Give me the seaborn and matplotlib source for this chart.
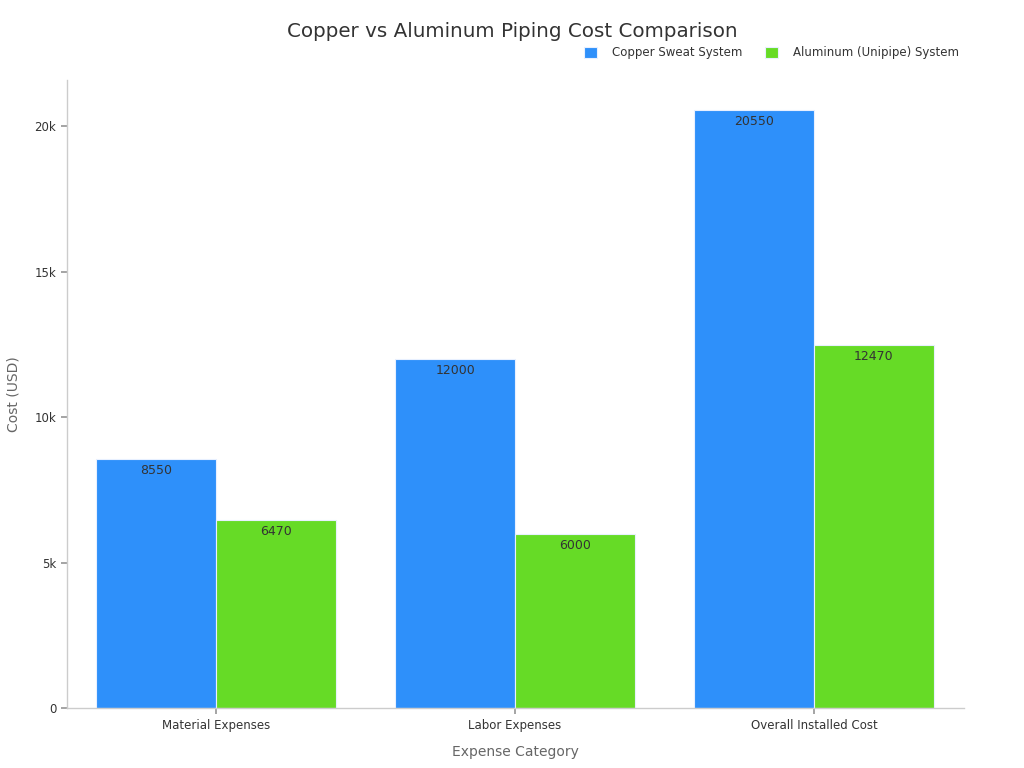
import matplotlib
matplotlib.use("Agg")
import matplotlib.pyplot as plt
import seaborn as sns
import pandas as pd
from matplotlib.ticker import FuncFormatter

categories = ["Material Expenses", "Labor Expenses", "Overall Installed Cost"]
copper_values = [8550, 12000, 20550]
aluminum_values = [6470, 6000, 12470]
series_names = ["Copper Sweat System", "Aluminum (Unipipe) System"]
colors = ["#2E90FA", "#66DB26"]

df = pd.DataFrame({
    "Expense Category": categories * 2,
    "Cost (USD)": copper_values + aluminum_values,
    "System": [series_names[0]] * 3 + [series_names[1]] * 3,
})

sns.set_theme(style="white")
plt.rcParams['font.family'] = ['DejaVu Sans']

fig, ax = plt.subplots(figsize=(10.24, 7.68), dpi=100)
fig.subplots_adjust(left=0.065, right=0.941, top=0.896, bottom=0.078)

sns.barplot(data=df, x="Expense Category", y="Cost (USD)", hue="System",
            palette=colors, width=0.8, ax=ax, edgecolor="#e8f0ff", linewidth=0.8,
            saturation=1)

for cont in ax.containers:
    labels = [f"{int(v)}" for v in cont.datavalues]
    ax.bar_label(cont, labels=labels, padding=-13, fontsize=9, color="#333333")

ax.set_xlim(-0.5, 2.5)
ax.set_ylim(0, 21600)
ax.yaxis.set_major_formatter(FuncFormatter(lambda v, p: "0" if v == 0 else f"{int(v/1000)}k"))
ax.set_yticks([0, 5000, 10000, 15000, 20000])

for s in ["top", "right"]:
    ax.spines[s].set_visible(False)
for s in ["left", "bottom"]:
    ax.spines[s].set_color("#cccccc")
    ax.spines[s].set_linewidth(1)

ax.tick_params(axis="both", which="both", length=4, color="#999999", labelsize=8.5,
               labelcolor="#333333", left=True, bottom=True)
ax.set_xlabel("Expense Category", fontsize=10, color="#666666", labelpad=10)
ax.set_ylabel("Cost (USD)", fontsize=10, color="#666666", labelpad=10)

fig.suptitle("Copper vs Aluminum Piping Cost Comparison", fontsize=14.3, color="#333333",
             x=0.5, y=0.972)

leg = ax.legend(loc="center right", bbox_to_anchor=(0.995, 1.043), ncol=2, frameon=False,
                fontsize=8.5, handlelength=1.1, handleheight=1.1, columnspacing=1.9,
                handletextpad=1.3, borderaxespad=0, borderpad=0)
for t in leg.get_texts():
    t.set_color("#333333")

fig.savefig("out.png", dpi=100)
